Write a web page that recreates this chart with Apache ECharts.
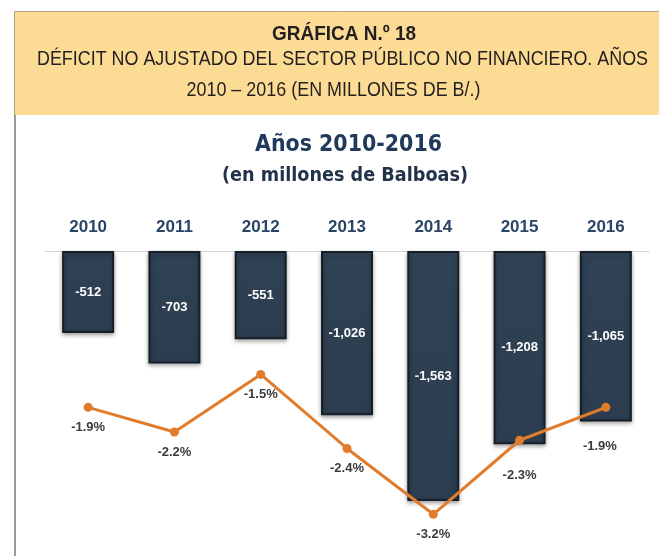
<!DOCTYPE html>
<html>
<head>
<meta charset="utf-8">
<script src="https://cdn.jsdelivr.net/npm/echarts@6/dist/echarts.min.js"></script>
<style>
  html, body { margin: 0; padding: 0; background: #fff; }
  #chart { width: 659px; height: 556px; }
</style>
</head>
<body>
<div id="chart"></div>
<script>
// data
const years = ['2010', '2011', '2012', '2013', '2014', '2015', '2016'];
const deficit = [-512, -703, -551, -1026, -1563, -1208, -1065];   // millones de B/.
const deficitPct = [-1.9, -2.2, -1.5, -2.4, -3.2, -2.3, -1.9];     // % del PIB

const chart = echarts.init(document.getElementById('chart'));

const fmtThousands = function (v) {
	const s = Math.abs(v).toString().replace(/\B(?=(\d{3})+(?!\d))/g, ',');
	return (v < 0 ? '-' : '') + s;
};

// squeeze/stretch a text horizontally so it fills the width it has in the original
const measureCtx = document.createElement('canvas').getContext('2d');
const fitText = function (text, font, cx, cy, targetWidth, color) {
	measureCtx.font = font;
	const w = measureCtx.measureText(text).width;
	return {
		type: 'text',
		x: cx,
		y: cy,
		scaleX: targetWidth / w,
		silent: true,
		style: {
			text: text,
			font: font,
			fill: color,
			align: 'center',
			verticalAlign: 'middle',
		},
	};
};

const headFont = '"Liberation Sans", Arial, sans-serif';
const titleFont = '"DejaVu Sans", sans-serif';

const option = {
	backgroundColor: '#ffffff',
	animation: false,
	graphic: [
		// yellow header band
		{
			type: 'rect',
			shape: { x: 14, y: 11, width: 645, height: 104 },
			style: { fill: '#fcdb94' },
			silent: true,
		},
		{
			type: 'polyline',
			shape: { points: [[14.5, 115], [14.5, 11.5], [659, 11.5]] },
			style: { stroke: '#b3a27c', lineWidth: 1, fill: null },
			silent: true,
		},
		// grey frame line on the left
		{
			type: 'rect',
			shape: { x: 14, y: 115, width: 2, height: 441 },
			style: { fill: '#9a9a9a' },
			silent: true,
		},
		fitText('GRÁFICA N.º 18', 'bold 20px ' + headFont, 344, 34, 144, '#231f20'),
		fitText('DÉFICIT NO AJUSTADO DEL SECTOR PÚBLICO NO FINANCIERO. AÑOS', '21px ' + headFont, 342.5, 59.5, 611, '#231f20'),
		fitText('2010 – 2016 (EN MILLONES DE B/.)', '21px ' + headFont, 333.5, 90.5, 294, '#231f20'),
		fitText('Años 2010-2016', 'bold 23px ' + titleFont, 348.5, 145.5, 187, '#213a5c'),
		fitText('(en millones de Balboas)', 'bold 19px ' + titleFont, 345, 176, 246, '#22324a'),
	],
	grid: {
		left: 45,
		right: 10,
		top: 251,
		height: 288,
	},
	xAxis: {
		type: 'category',
		data: years,
		position: 'top',
		axisLine: { show: true, lineStyle: { color: '#d6d6d6', width: 1 } },
		axisTick: { show: false },
		axisLabel: {
			margin: 15,
			fontFamily: headFont,
			fontSize: 17,
			fontWeight: 'bold',
			color: '#2a4466',
		},
	},
	yAxis: [
		{
			type: 'value',
			min: -1800,
			max: 0,
			show: false,
			splitLine: { show: false },
		},
		{
			type: 'value',
			min: -3.5,
			max: 0,
			show: false,
			splitLine: { show: false },
		},
	],
	series: [
		{
			name: 'Déficit',
			type: 'bar',
			data: deficit,
			yAxisIndex: 0,
			barWidth: 52,
			itemStyle: {
				color: {
					type: 'linear',
					x: 0, y: 0, x2: 0, y2: 1,
					colorStops: [
						{ offset: 0, color: '#3d4f62' },
						{ offset: 0.04, color: '#2f4154' },
						{ offset: 1, color: '#2c3d4f' },
					],
				},
				borderColor: '#151f29',
				borderWidth: 2,
				shadowColor: 'rgba(0,0,0,0.35)',
				shadowBlur: 4,
				shadowOffsetY: 2,
			},
			label: {
				show: true,
				position: 'inside',
				formatter: function (p) { return fmtThousands(p.value); },
				fontFamily: headFont,
				fontSize: 13,
				fontWeight: 'bold',
				color: '#ffffff',
			},
		},
		{
			name: '% PIB',
			type: 'line',
			// the last two labels sit below the bars in the original
			data: deficitPct.map(function (v, i) {
				return {
					value: v,
					label: { distance: i === 5 ? 24 : (i === 6 ? 28 : 9), offset: i === 6 ? [-6, 0] : [0, 0] },
				};
			}),
			yAxisIndex: 1,
			symbol: 'circle',
			symbolSize: 9,
			lineStyle: { color: '#e07c2c', width: 3 },
			itemStyle: { color: '#e07c2c' },
			label: {
				show: true,
				position: 'bottom',
				formatter: function (p) { return p.value.toFixed(1) + '%'; },
				fontFamily: headFont,
				fontSize: 13,
				fontWeight: 'bold',
				color: '#3c3c3c',
			},
			z: 3,
		},
	],
};

option && chart.setOption(option);
</script>
</body>
</html>
